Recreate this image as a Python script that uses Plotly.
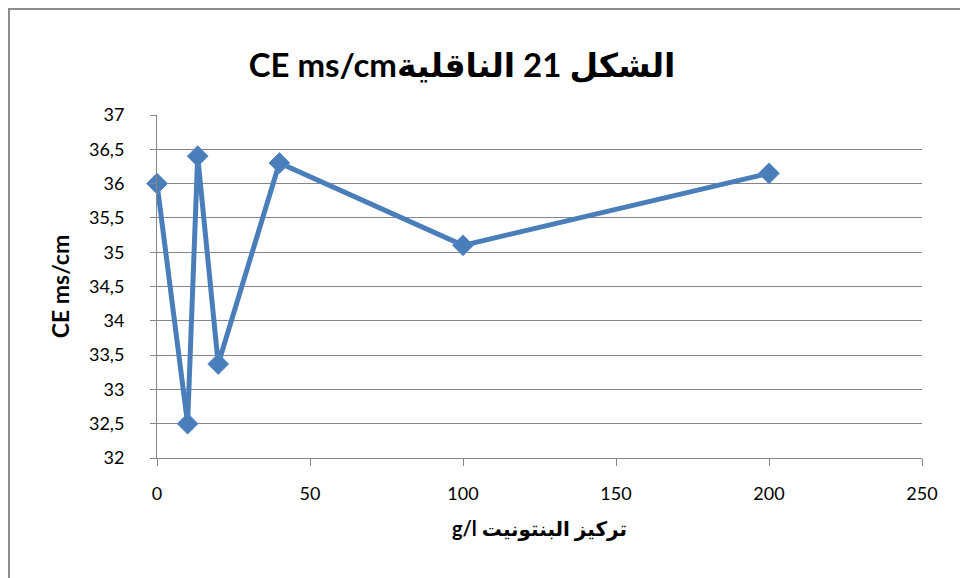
import plotly.graph_objects as go

# Data
concentration_g_l = [0, 10, 13.3, 20, 40, 100, 200]
conductivity_ms_cm = [36.0, 32.5, 36.4, 33.37, 36.3, 35.1, 36.15]

title_text = "CE ms/cm" + "الشكل 21 الناقلية"
x_title = "g/l تركيز البنتونيت"
y_title = "CE ms/cm"

y_ticks = [32, 32.5, 33, 33.5, 34, 34.5, 35, 35.5, 36, 36.5, 37]
x_ticks = [0, 50, 100, 150, 200, 250]

FONT = "Lato, Carlito, 'DejaVu Sans', sans-serif"
GRID = "#868686"
BLUE = "#4A7EBB"

W, H = 960, 570
ML, MR, MT, MB = 149, 46, 107, 120
PW, PH = W - ML - MR, H - MT - MB

fig = go.Figure()
fig.add_trace(go.Scatter(
    x=concentration_g_l,
    y=conductivity_ms_cm,
    mode="lines+markers",
    line=dict(color=BLUE, width=5),
    marker=dict(symbol="diamond", size=16, color=BLUE,
                line=dict(color="#5b8cc8", width=1)),
    showlegend=False,
    cliponaxis=False,
))

fig.update_layout(
    width=W, height=H,
    margin=dict(l=ML, r=MR, t=MT, b=MB),
    paper_bgcolor="white",
    plot_bgcolor="white",
    separators=", ",
    font=dict(family=FONT, color="black", size=18),
    title=dict(
        text="<b>" + title_text + "</b>",
        x=454 / W, xanchor="center", xref="container",
        y=1 - 57 / H, yanchor="middle", yref="container",
        font=dict(family=FONT, size=33, color="black"),
    ),
    xaxis=dict(
        range=[0, 250],
        tickvals=x_ticks,
        ticks="outside", ticklen=7, tickcolor=GRID, tickwidth=1,
        showline=True, linecolor=GRID, linewidth=1,
        showgrid=False, zeroline=False,
        tickfont=dict(size=18, family=FONT),
        ticklabelstandoff=12,
        title=dict(text="<b>" + x_title + "</b>", standoff=19,
                   font=dict(size=20, family=FONT)),
    ),
    yaxis=dict(
        range=[32, 37],
        tickvals=y_ticks,
        ticks="outside", ticklen=6, tickcolor=GRID, tickwidth=1,
        showline=True, linecolor=GRID, linewidth=1,
        showgrid=True, gridcolor=GRID, gridwidth=1,
        zeroline=False,
        tickfont=dict(size=18, family=FONT),
        ticklabelstandoff=22,
        title=dict(text="<b>" + y_title + "</b>", standoff=12,
                   font=dict(size=23, family=FONT)),
    ),
    shapes=[dict(
        type="rect", xref="paper", yref="paper",
        x0=(1 - ML) / PW, x1=1.2,
        y0=-0.5, y1=(H - MB - 1) / PH,
        line=dict(color="#8c8c8c", width=2),
        fillcolor="rgba(0,0,0,0)", layer="below",
    )],
)

fig.write_html("out.html")
